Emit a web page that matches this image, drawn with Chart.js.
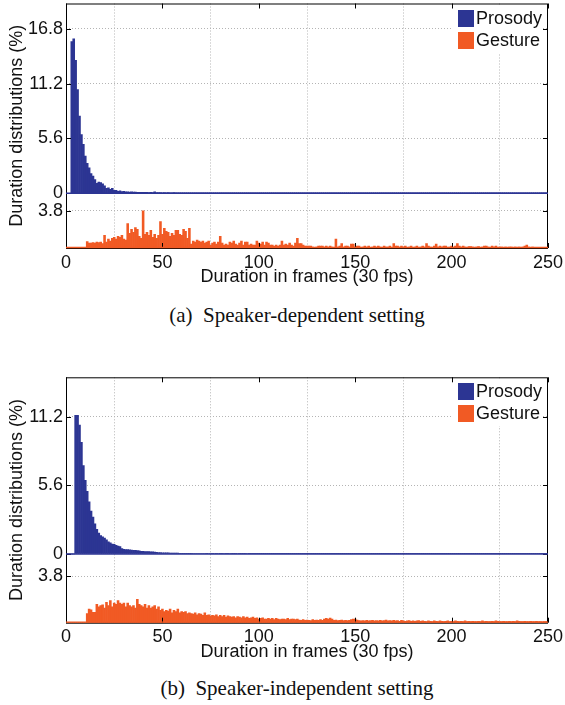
<!DOCTYPE html>
<html>
<head>
<meta charset="utf-8">
<script src="https://cdn.jsdelivr.net/npm/chart.js@4.4.1/dist/chart.umd.min.js"></script>
<style>
  body { margin: 0; background: #fff; }
  #page { position: relative; width: 565px; height: 705px; overflow: hidden; font-family: "Liberation Sans", Arial, sans-serif; }
  canvas { position: absolute; left: 0; }
  .legend { position: absolute; left: 453px; width: 88px; height: 47px; background: #fff; }
  .legend .row { position: absolute; left: 5px; height: 17px; font-size: 18px; line-height: 17px; color: #111; white-space: nowrap; }
  .legend .sw { display: inline-block; width: 16px; height: 17px; vertical-align: top; margin-right: 2px; }
  .caption { position: absolute; left: 0; width: 594px; text-align: center; font-family: "Liberation Serif", "Times New Roman", serif; font-size: 21px; line-height: 24px; color: #111; }
</style>
</head>
<body>
<div id="page">
  <canvas id="chartA" width="565" height="300" style="top:0px"></canvas>
  <canvas id="chartB" width="565" height="305" style="top:370px"></canvas>

  <div class="legend" style="top:6px">
    <div class="row" style="top:4px"><span class="sw" style="background:#2c3593"></span>Prosody</div>
    <div class="row" style="top:26px"><span class="sw" style="background:#f15a24"></span>Gesture</div>
  </div>
  <div class="legend" style="top:379px">
    <div class="row" style="top:4px"><span class="sw" style="background:#2c3593"></span>Prosody</div>
    <div class="row" style="top:26px"><span class="sw" style="background:#f15a24"></span>Gesture</div>
  </div>

  <div class="caption" style="top:303px">(a)&nbsp; Speaker-dependent setting</div>
  <div class="caption" style="top:676px">(b)&nbsp; Speaker-independent setting</div>
</div>

<script>
// ---- data: share of segments (%) per duration in frames (1..250) ----
const seriesNames = ["Prosody", "Gesture"];
const xTicks = [0, 50, 100, 150, 200, 250];

// (a) speaker-dependent
const prosodyA = [
  0, 0, 15.5, 15.8, 13.6, 10.6, 7.9, 6.0, 5.0, 3.8,
  3.05, 2.6, 2.0, 1.75, 1.4, 1.0, 1.15, 1.1, 0.95, 0.75,
  0.5, 0.55, 0.4, 0.5, 0.3, 0.3, 0.2, 0.25, 0.18, 0.2,
  0.15, 0.14, 0.13, 0.15, 0.12, 0.13, 0.1, 0.09, 0.1, 0.08,
  0.09, 0.08, 0.07, 0.08, 0.07, 0.15, 0.06, 0.07, 0.06, 0.05,
  0.06, 0.05, 0.06, 0.05, 0.05, 0.07, 0.05, 0.04, 0.05, 0.04,
  0.05, 0.04, 0.04, 0.05, 0.04, 0.04, 0.03, 0.04, 0.04, 0.03,
  0.04,0.03,0.04,0.04,0.03,0.04,0.03,0.03,0.04,0.03,0.03,0.04,0.03,0.03,0.03,0.04,0.03,0.03,0.03,0.03,
  0.03,0.03,0.04,0.03,0.03,0.03,0.03,0.02,0.03,0.03,0.03,0.03,0.02,0.03,0.03,0.03,0.03,0.02,0.03,0.03,
  0.03,0.02,0.03,0.03,0.02,0.03,0.03,0.03,0.02,0.03,0.03,0.02,0.03,0.02,0.03,0.03,0.02,0.03,0.02,0.03,
  0.02,0.03,0.02,0.03,0.03,0.02,0.03,0.02,0.02,0.03,0.02,0.03,0.02,0.02,0.03,0.02,0.02,0.03,0.02,0.02,
  0.03,0.02,0.02,0.03,0.02,0.02,0.02,0.03,0.02,0.02,0.02,0.03,0.02,0.02,0.02,0.02,0.03,0.02,0.02,0.02,
  0.02,0.02,0.03,0.02,0.02,0.02,0.02,0.02,0.03,0.02,0.02,0.02,0.02,0.02,0.02,0.03,0.02,0.02,0.02,0.02,
  0.02,0.02,0.02,0.02,0.03,0.02,0.02,0.02,0.02,0.02,0.02,0.02,0.02,0.03,0.02,0.02,0.02,0.02,0.02,0.02,
  0.02,0.02,0.02,0.02,0.02,0.02,0.03,0.02,0.02,0.02,0.02,0.02,0.02,0.02,0.02,0.02,0.02,0.02,0.02,0.02,
  0.02,0.02,0.02,0.02,0.02,0.02,0.02,0.02,0.02,0.02,0.02,0.02,0.02,0.02,0.02,0.02,0.02,0.02,0.02,0.02
];
const gestureA = [
  0, 0, 0, 0, 0, 0, 0, 0, 0, 0,
  0.65, 0.5, 0.5, 0.55, 0.5, 0.6, 0.55, 0.6, 0.45, 1.3,
  0.6, 0.9, 0.7, 1.0, 1.1, 0.9, 1.2, 1.1, 1.3, 0.9,
  0.8, 2.5, 1.5, 1.9, 1.6, 2.1, 1.9, 1.2, 1.0, 3.8,
  1.4, 1.6, 1.3, 1.8, 1.1, 1.4, 1.0, 1.3, 2.7, 1.4,
  2.0, 1.7, 1.6, 1.2, 1.5, 1.3, 1.8, 1.8, 1.4, 1.3,
  1.9, 1.7, 1.0, 2.0, 0.4, 0.7, 0.6, 0.8, 0.7, 0.6,
  0.7, 0.5, 0.6, 0.7, 0.3, 0.5, 0.6, 0.4, 0.6, 1.2,
  0.5, 0.3, 0.4, 0.3, 0.6, 0.5, 0.7, 0.4, 0.3, 0.5,
  0.7, 0.3, 0.6, 0.6, 0.3, 0.4, 0.3, 0.3, 0.7, 0.5,
  0.4, 0.6, 0.3, 0.6, 0.5, 0.3, 0.3, 0.2, 0.3, 0.2,
  0.3, 0.7, 0.3, 0.4, 0.3, 0.5, 0.3, 0.2, 0.5, 1.0,
  0.45, 0.45, 0.3, 0.2, 0.2, 0.2, 0.2, 0.1, 0, 0.1,
  0.2, 0.2, 0.2, 0.1, 0.2, 0.1, 0.2, 0.1, 0, 0.9,
  0.1, 0.2, 0.45, 0.1, 0.2, 0.2, 0.1, 0.4, 0.4, 0.1,
  0.2, 0.2, 0, 0.1, 0.2, 0.1, 0.2, 0, 0.1, 0.2,
  0.1, 0.2, 0.1, 0, 0.2, 0.1, 0.1, 0.2, 0, 0.45,
  0.2, 0.2, 0.1, 0.2, 0.1, 0.2, 0, 0.1, 0.2, 0,
  0.1, 0.2, 0, 0.1, 0.2, 0.1, 0.45, 0.2, 0.1, 0,
  0.2, 0.4, 0.1, 0.2, 0.1, 0.2, 0.2, 0, 0.1, 0.2,
  0.1, 0.2, 0.45, 0.2, 0.1, 0.2, 0.1, 0, 0.15, 0.15,
  0.1, 0, 0.1, 0.15, 0, 0.1, 0.2, 0.2, 0.1, 0,
  0.2, 0.1, 0.2, 0, 0.1, 0.1, 0, 0.1, 0, 0.1,
  0.1, 0, 0.1, 0, 0.1, 0, 0.1, 0.2, 0.3, 0.1,
  0, 0.1, 0, 0.05, 0.05, 0, 0.05, 0, 0.05, 0
];

// (b) speaker-independent
const prosodyB = [
  0, 0, 0, 0, 11.3, 11.3, 10.5, 9.1, 7.2, 6.0,
  5.1, 4.25, 3.5, 3.0, 2.45, 2.0, 1.7, 1.5, 1.4, 1.3,
  1.15, 1.0, 0.9, 0.8, 0.78, 0.7, 0.65, 0.6, 0.45, 0.38,
  0.36, 0.35, 0.33, 0.32, 0.3, 0.3, 0.28, 0.25, 0.22, 0.21,
  0.2, 0.2, 0.19, 0.18, 0.17, 0.15, 0.14, 0.12, 0.11, 0.1,
  0.1, 0.09, 0.09, 0.08, 0.08, 0.07, 0.07, 0.07, 0.06, 0.06,
  0.06, 0.05, 0.05, 0.05, 0.05, 0.04, 0.04, 0.04, 0.04, 0.04,
  0.04,0.04,0.03,0.04,0.04,0.03,0.04,0.03,0.04,0.03,0.03,0.04,0.03,0.03,0.04,0.03,0.03,0.03,0.04,0.03,
  0.03,0.03,0.03,0.04,0.03,0.03,0.03,0.03,0.03,0.02,0.03,0.03,0.03,0.03,0.03,0.02,0.03,0.03,0.03,0.03,
  0.03,0.03,0.02,0.03,0.03,0.03,0.02,0.03,0.03,0.03,0.02,0.03,0.03,0.02,0.03,0.03,0.02,0.03,0.03,0.02,
  0.03,0.02,0.03,0.02,0.03,0.03,0.02,0.03,0.02,0.03,0.02,0.02,0.03,0.02,0.03,0.02,0.02,0.03,0.02,0.02,
  0.03,0.02,0.02,0.02,0.03,0.02,0.02,0.03,0.02,0.02,0.02,0.03,0.02,0.02,0.02,0.03,0.02,0.02,0.02,0.02,
  0.02,0.03,0.02,0.02,0.02,0.02,0.03,0.02,0.02,0.02,0.02,0.02,0.03,0.02,0.02,0.02,0.02,0.02,0.02,0.03,
  0.02,0.02,0.02,0.02,0.02,0.03,0.02,0.02,0.02,0.02,0.02,0.02,0.02,0.02,0.03,0.02,0.02,0.02,0.02,0.02,
  0.02,0.02,0.02,0.02,0.02,0.02,0.02,0.03,0.02,0.02,0.02,0.02,0.02,0.02,0.02,0.02,0.02,0.02,0.02,0.02,
  0.02,0.02,0.02,0.02,0.02,0.02,0.02,0.02,0.02,0.02,0.02,0.02,0.02,0.02,0.02,0.02,0.02,0.02,0.02,0.02
];
const gestureB = [
  0, 0, 0, 0, 0, 0, 0, 0, 0, 0,
  0.75, 1.1, 1.05, 0.85, 0.85, 1.5, 1.3, 1.4, 1.45, 1.2,
  1.65, 1.4, 1.8, 1.3, 1.6, 1.5, 1.8, 1.6, 1.5, 1.6,
  1.3, 1.6, 1.4, 1.3, 1.4, 1.2, 1.9, 1.5, 1.4, 1.3,
  1.5, 1.2, 1.4, 1.2, 1.3, 1.4, 1.1, 1.3, 1.0, 1.1,
  0.9, 1.0, 0.95, 1.1, 0.8, 1.0, 0.9, 1.1, 0.8, 0.9,
  0.85, 0.9, 0.75, 0.8, 0.75, 0.7, 0.8, 0.65, 0.75, 0.7,
  0.6, 0.8, 0.6, 0.65, 0.55, 0.6, 0.55, 0.65, 0.5, 0.6,
  0.5, 0.6, 0.45, 0.55, 0.5, 0.45, 0.5, 0.4, 0.5, 0.45,
  0.4, 0.5, 0.4, 0.45, 0.35, 0.4, 0.45, 0.35, 0.4, 0.3,
  0.35, 0.4, 0.3, 0.3, 0.35, 0.3, 0.35, 0.25, 0.35, 0.3,
  0.25, 0.3, 0.3, 0.25, 0.35, 0.25, 0.3, 0.3, 0.25, 0.3,
  0.22, 0.2, 0.25, 0.2, 0.22, 0.2, 0.18, 0.25, 0.2, 0.22,
  0.2, 0.25, 0.2, 0.3, 0.35, 0.3, 0.38, 0.3, 0.2, 0.22,
  0.18, 0.2, 0.22, 0.18, 0.2, 0.18, 0.2, 0.25, 0.3, 0.3,
  0.22, 0.18, 0.15, 0.18, 0.15, 0.2, 0.15, 0.18, 0.2, 0.15,
  0.18, 0.15, 0.2, 0.15, 0.18, 0.22, 0.15, 0.18, 0.15, 0.2,
  0.15, 0.18, 0.12, 0.2, 0.15, 0.12, 0.15, 0.18, 0.12, 0.15,
  0.12, 0.15, 0.18, 0.12, 0.15, 0.12, 0.1, 0.15, 0.12, 0.1,
  0.15, 0.12, 0.1, 0.15, 0.12, 0.1, 0.12, 0.15, 0.1, 0.12,
  0.1, 0.15, 0.12, 0.1, 0.12, 0.1, 0.15, 0.1, 0.12, 0.1,
  0.12, 0.1, 0.1, 0.12, 0.1, 0.15, 0.1, 0.12, 0.1, 0.1,
  0.12, 0.1, 0.15, 0.12, 0.1, 0.1, 0.12, 0.1, 0.1, 0.12,
  0.1, 0.12, 0.1, 0.15, 0.12, 0.1, 0.1, 0.12, 0.1, 0.1,
  0.12, 0.1, 0.1, 0.12, 0.1, 0.1, 0.08, 0.1, 0.1, 0.1
];

// gesture histogram sits under the prosody one, shifted down by this many %
const GESTURE_SHIFT = 5.6;
const gestureTick = 3.8;
const prosodyTicksA = [0, 5.6, 11.2, 16.8];
const prosodyTicksB = [0, 5.6, 11.2];

const BLUE = "#2c3593";
const ORANGE = "#f15a24";
const FONT = { family: "'Liberation Sans', Arial, sans-serif", size: 18 };

// frame box, inward tick marks, bar baselines (like matlab)
const framePlugin = {
  id: "frame",
  afterDatasetsDraw(chart) {
    const { ctx, chartArea: a, scales } = chart;
    const x = scales.x, y = scales.y;
    ctx.save();
    ctx.lineWidth = 1;
    ctx.strokeStyle = "#000";
    ctx.strokeRect(a.left + 0.5, a.top + 0.5, a.right - a.left - 1, a.bottom - a.top);
    ctx.beginPath();
    x.ticks.forEach(t => {
      const px = Math.round(x.getPixelForValue(t.value)) + 0.5;
      ctx.moveTo(px, a.top); ctx.lineTo(px, a.top + 5);
      ctx.moveTo(px, a.bottom); ctx.lineTo(px, a.bottom - 5);
    });
    y.ticks.forEach(t => {
      const py = Math.round(y.getPixelForValue(t.value)) + 0.5;
      ctx.moveTo(a.left, py); ctx.lineTo(a.left + 5, py);
      ctx.moveTo(a.right, py); ctx.lineTo(a.right - 5, py);
    });
    ctx.stroke();

    ctx.lineWidth = 1.3;
    ctx.strokeStyle = BLUE;
    ctx.beginPath();
    const y0 = y.getPixelForValue(0);
    ctx.moveTo(a.left, y0); ctx.lineTo(a.right, y0);
    ctx.stroke();
    ctx.strokeStyle = ORANGE;
    ctx.beginPath();
    const yg = y.getPixelForValue(-GESTURE_SHIFT) - 0.5;
    ctx.moveTo(a.left, yg); ctx.lineTo(a.right, yg);
    ctx.stroke();
    ctx.restore();
  }
};

function makeChart(id, prosody, gesture, yMax, prosodyTicks, padTop, padBottom) {
  const tickVals = [gestureTick - GESTURE_SHIFT].concat(prosodyTicks);
  return new Chart(document.getElementById(id), {
    type: "bar",
    data: {
      datasets: [
        {
          label: seriesNames[0],
          data: prosody.map((v, i) => ({ x: i + 1, y: v })),
          backgroundColor: BLUE
        },
        {
          label: seriesNames[1],
          data: gesture.map((v, i) => ({ x: i + 1, y: [-GESTURE_SHIFT, v - GESTURE_SHIFT] })),
          backgroundColor: ORANGE
        }
      ]
    },
    options: {
      responsive: false,
      animation: false,
      devicePixelRatio: 1,
      grouped: false,
      barPercentage: 1,
      categoryPercentage: 1,
      borderWidth: 0,
      layout: { padding: { top: padTop, right: 17, left: 0, bottom: padBottom } },
      plugins: { legend: { display: false }, tooltip: { enabled: false } },
      scales: {
        x: {
          type: "linear",
          min: 0, max: 250,
          offset: false,
          afterBuildTicks: s => { s.ticks = xTicks.map(v => ({ value: v })); },
          afterFit: s => { s.height = 50; s.paddingLeft = 0; s.paddingRight = 0; },
          ticks: { font: FONT, color: "#111", padding: 4, maxRotation: 0 },
          grid: { drawTicks: false, color: "#b4b4b4", lineWidth: 1 },
          border: { display: false, dash: [1, 2] },
          title: { display: true, text: "Duration in frames (30 fps)", font: FONT, color: "#111", padding: { top: 0, bottom: 10 } }
        },
        y: {
          type: "linear",
          min: -GESTURE_SHIFT, max: yMax,
          afterBuildTicks: s => { s.ticks = tickVals.map(v => ({ value: v })); },
          afterFit: s => { s.width = 66; s.paddingTop = 0; s.paddingBottom = 0; },
          ticks: {
            font: FONT, color: "#111", padding: 3,
            callback: v => (v < 0 ? String(gestureTick) : String(Math.round(v * 10) / 10))
          },
          grid: {
            drawTicks: false, lineWidth: 1,
            color: c => (c.tick && c.tick.value === 0 ? "rgba(0,0,0,0)" : "#b4b4b4")
          },
          border: { display: false, dash: [1, 2] },
          title: { display: true, text: "Duration distributions (%)", font: FONT, color: "#111", padding: { top: 6, bottom: 0 } }
        }
      }
    },
    plugins: [framePlugin]
  });
}

makeChart("chartA", prosodyA, gestureA, 19.4, prosodyTicksA, 3.5, 2);
makeChart("chartB", prosodyB, gestureB, 14.4, prosodyTicksB, 7.3, 2.3);
</script>
</body>
</html>
